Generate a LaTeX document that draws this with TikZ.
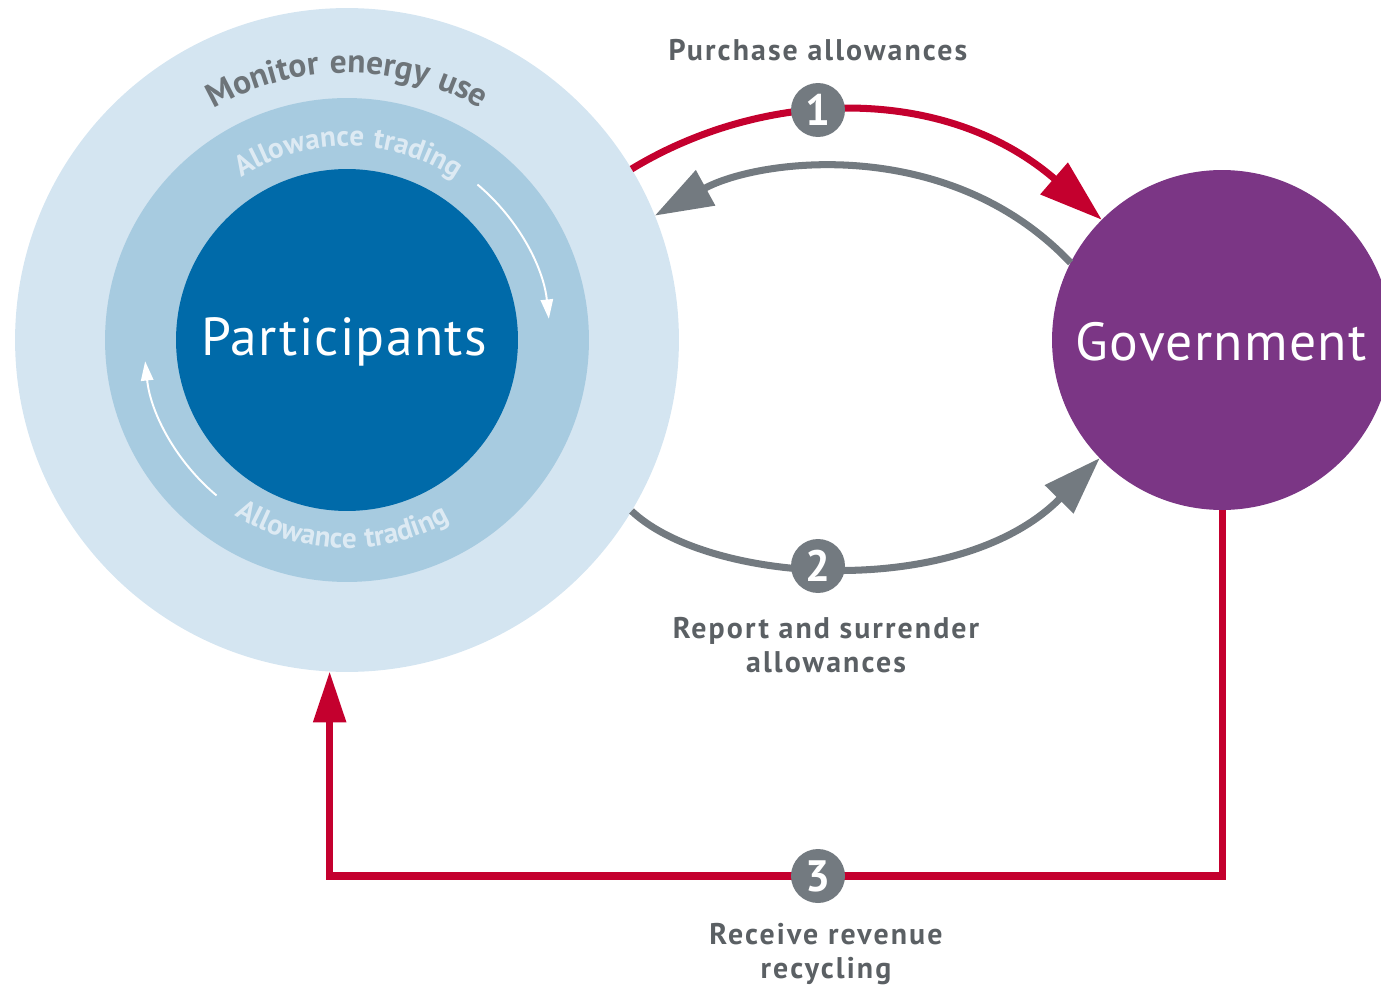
\documentclass[tikz,border=0pt]{standalone}
\usepackage{fontspec}
\setmainfont{PT Sans}
\newfontfamily\spacedfont[LetterSpace=7]{PT Sans}
\newfontfamily\ringfont[LetterSpace=5]{PT Sans}
\newfontfamily\namefont[LetterSpace=2.5]{PT Sans}
\usetikzlibrary{arrows.meta,decorations.text}
\definecolor{ringA}{HTML}{D4E5F1}
\definecolor{ringB}{HTML}{A7CBE0}
\definecolor{partblue}{HTML}{006AA9}
\definecolor{govpurple}{HTML}{7B3685}
\definecolor{flowred}{HTML}{C4002E}
\definecolor{flowgray}{HTML}{737A80}
\definecolor{labelgray}{HTML}{5B6064}
\definecolor{montext}{HTML}{6D7479}
\definecolor{ringtext}{HTML}{DDEAF3}
\begin{document}
\begin{tikzpicture}[x=0.02cm,y=-0.02cm,
  disc/.style={circle,inner sep=0pt,outer sep=0pt},
  badge/.style={circle,fill=flowgray,minimum size=1.08cm,inner sep=0pt,text=white,font=\fontsize{25}{26}\selectfont\bfseries},
  flowlabel/.style={align=center,text=labelgray,font=\spacedfont\fontsize{17}{19.3}\selectfont\bfseries},
  bigname/.style={text=white,font=\namefont\fontsize{30.5}{34}\selectfont},
  redflow/.style={draw=flowred,line width=4pt,-{Triangle[length=36pt,width=23pt]}},
  redflowb/.style={draw=flowred,line width=4pt,-{Triangle[length=29pt,width=18pt]}},
  grayflow/.style={draw=flowgray,line width=4pt,-{Triangle[length=33pt,width=22pt]}},
  ringarrow/.style={draw=white,line width=1.1pt,-{Triangle[length=11pt,width=7pt]}}
]
\clip (0,0) rectangle (1381,986);
\useasboundingbox (0,0) rectangle (1381,986);

% participant rings
\node[disc,fill=ringA,minimum size=13.28cm] (monitor) at (347,340) {};
\node[disc,fill=ringB,minimum size=9.68cm] (trading) at (347,340) {};
\node[disc,fill=partblue,minimum size=6.84cm] (part) at (347,340) {};
\node[bigname] (partlabel) at (344,342) {Participants};

% government
\node[disc,fill=govpurple,minimum size=6.8cm] (gov) at (1222,340) {};
\node[bigname] (govlabel) at (1221,342) {Government};

% curved ring texts
\path[decorate,decoration={text along path,text align=center,
  text={|\ringfont\fontsize{19}{22}\selectfont\bfseries\color{montext}|Monitor energy use}}]
  (347,340) ++(124:5.34cm) arc[start angle=124,end angle=56,radius=5.34cm];
\path[decorate,decoration={text along path,text align=center,
  text={|\ringfont\fontsize{16.5}{19}\selectfont\bfseries\color{ringtext}|Allowance trading}}]
  (347,340) ++(132:3.88cm) arc[start angle=132,end angle=47,radius=3.88cm];
\path[decorate,decoration={text along path,text align=center,
  text={|\ringfont\fontsize{16.5}{19}\selectfont\bfseries\color{ringtext}|Allowance trading}}]
  (347,340) ++(226:4.16cm) arc[start angle=226,end angle=311,radius=4.16cm];

% small white arrows in the trading ring
\draw[ringarrow] (347,340) ++(50:4.06cm) arc[start angle=50,end angle=6,radius=4.06cm];
\draw[ringarrow] (347,340) ++(230:4.06cm) arc[start angle=230,end angle=186,radius=4.06cm];

% flows
\draw[redflow] (monitor.31.7) .. controls (765,88) and (945,84) .. (gov.135.5);
\draw[grayflow] (gov.153) .. controls (950,135) and (760,158) .. (monitor.22);
\draw[grayflow] (monitor.-31) .. controls (710,585) and (960,600) .. (gov.224);
\draw[redflowb] (gov.south) |- (818,876) -| (monitor.-93.3);

% badges
\node[badge] (b1) at (818,110) {1};
\node[badge] (b2) at (818,566) {2};
\node[badge] (b3) at (818,876) {3};

% labels
\node[flowlabel] (l1) at (818,50) {Purchase allowances};
\node[flowlabel] (l2) at (826,645) {Report and surrender\\allowances};
\node[flowlabel] (l3) at (826,954) {Receive revenue\\recycling};
\end{tikzpicture}
\end{document}
